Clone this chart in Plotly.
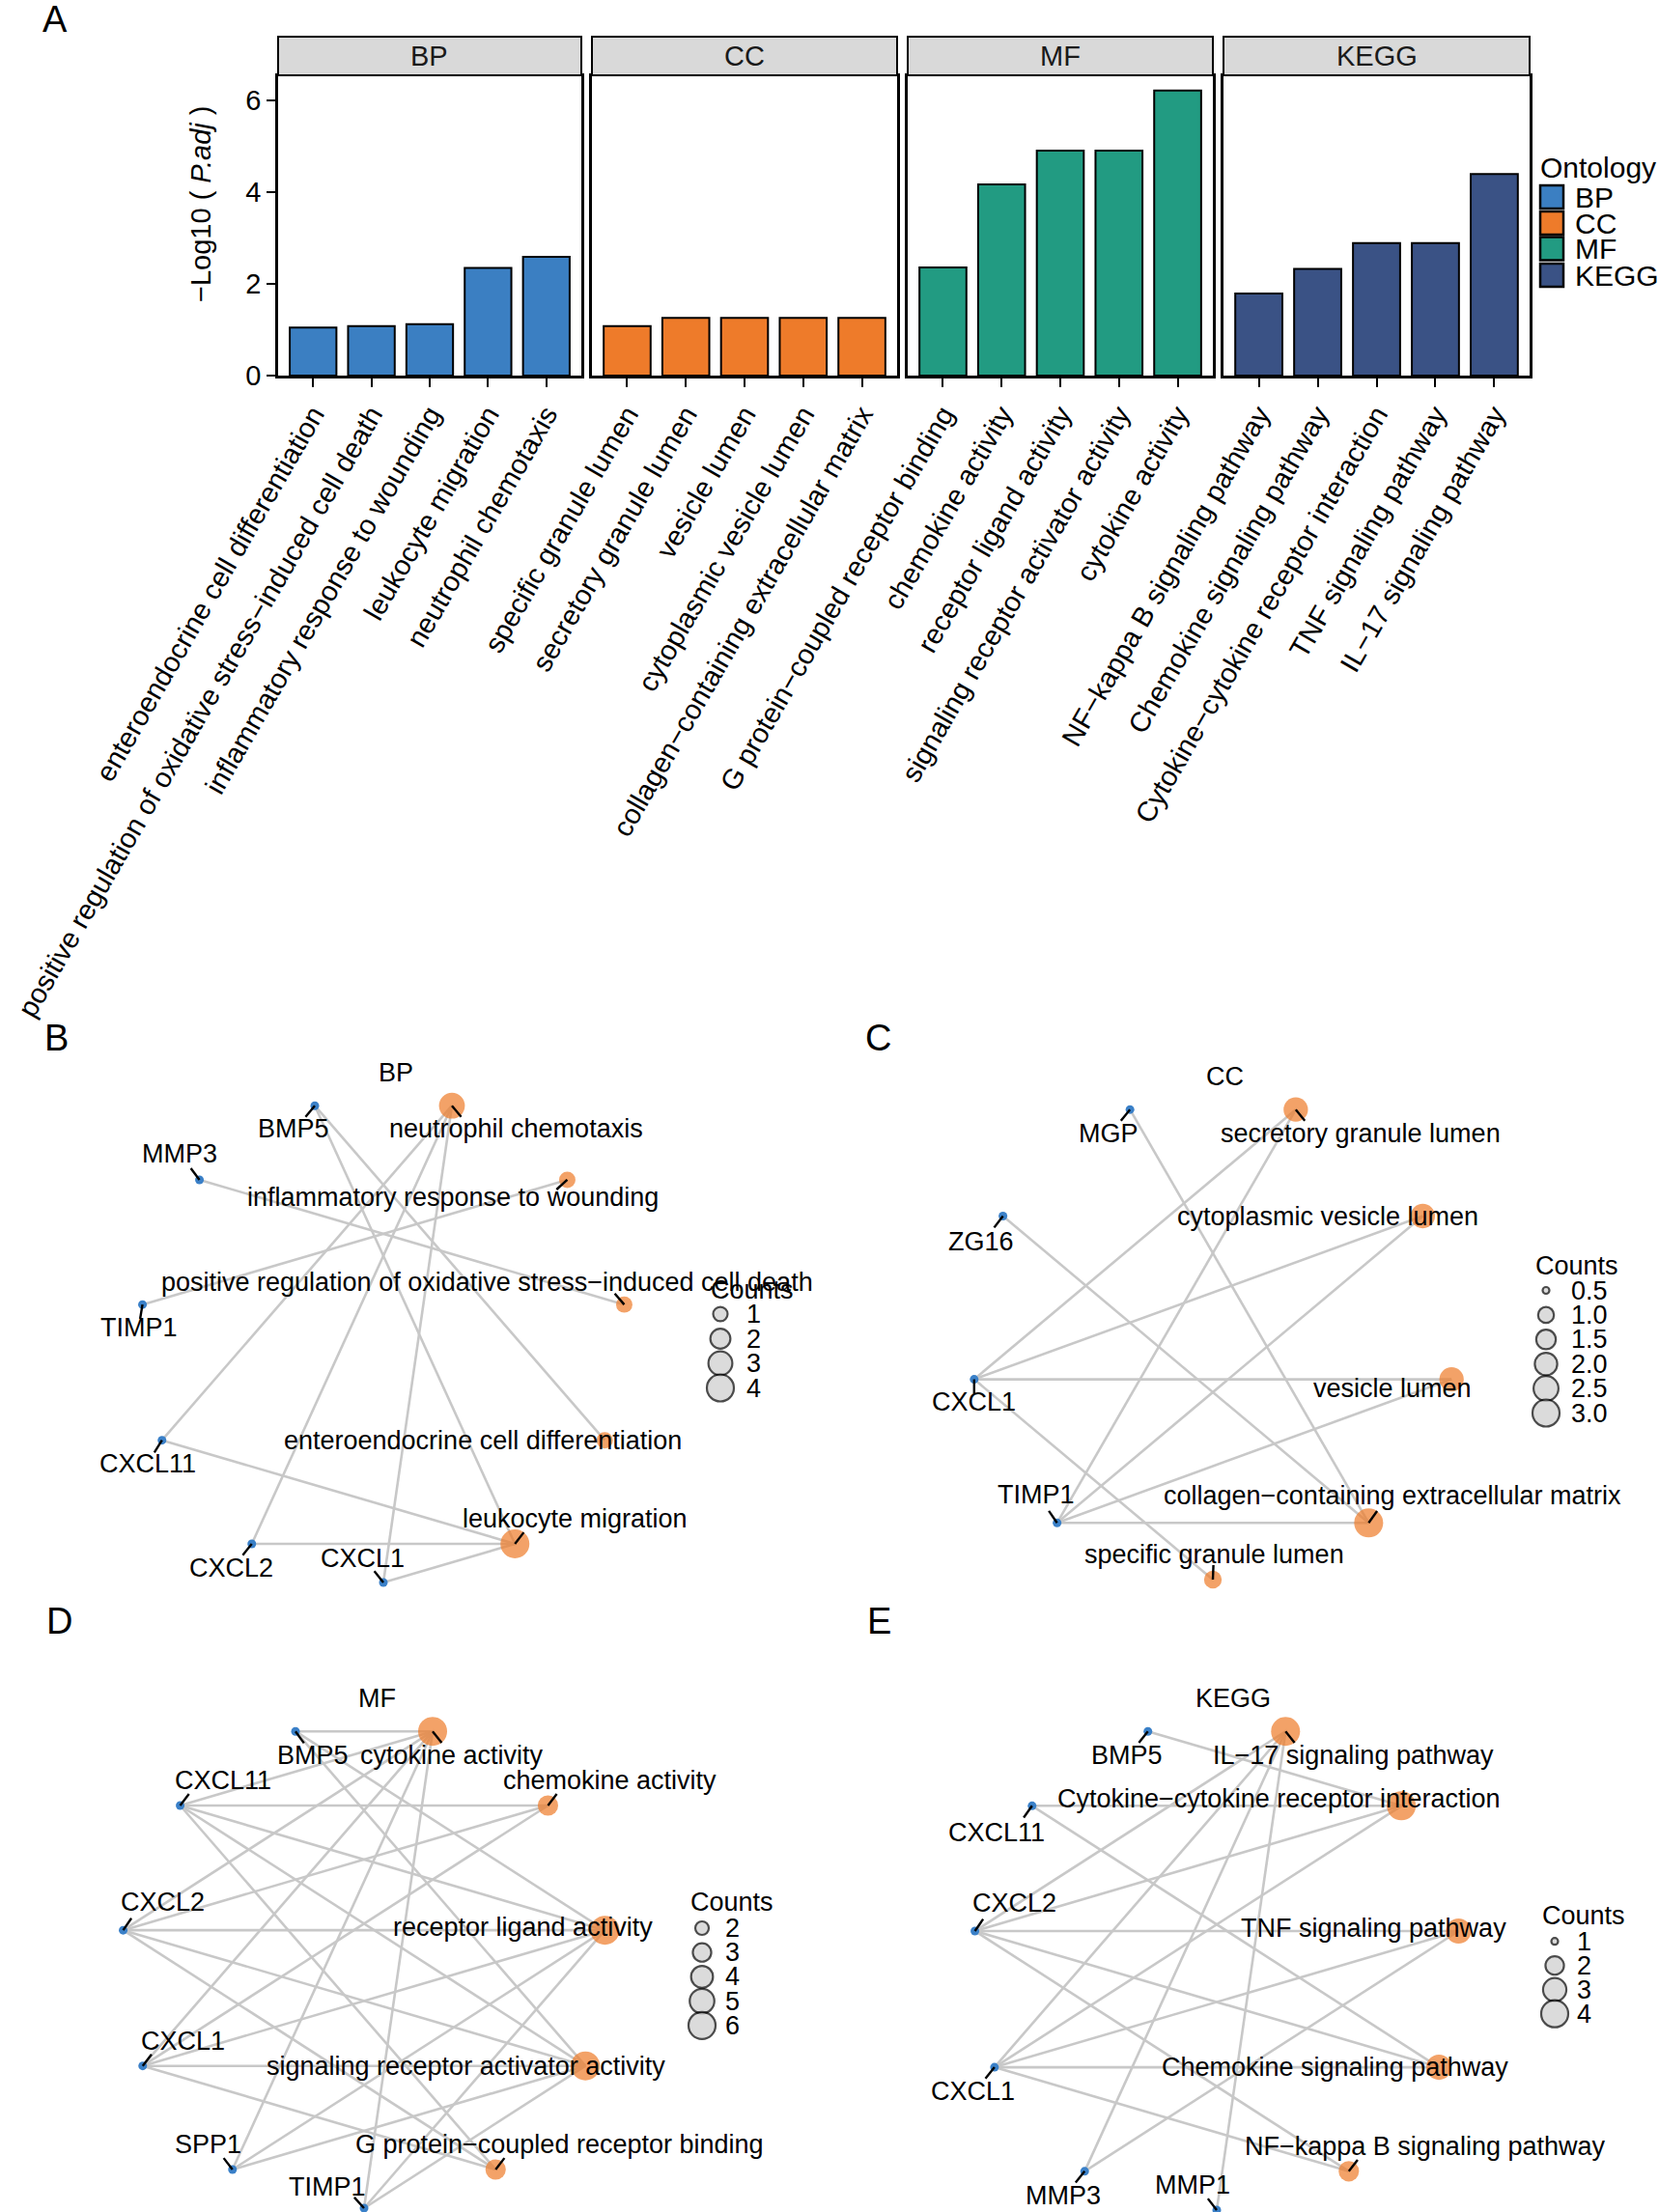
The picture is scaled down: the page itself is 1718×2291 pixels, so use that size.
import math
import plotly.graph_objects as go

# ---------------- data: panel A (enrichment bars) ----------------
ontologies = ["BP", "CC", "MF", "KEGG"]

bp_terms = ["enteroendocrine cell differentiation",
            "positive regulation of oxidative stress\u2212induced cell death",
            "inflammatory response to wounding",
            "leukocyte migration",
            "neutrophil chemotaxis"]
bp_values = [1.05, 1.08, 1.12, 2.35, 2.59]

cc_terms = ["specific granule lumen",
            "secretory granule lumen",
            "vesicle lumen",
            "cytoplasmic vesicle lumen",
            "collagen\u2212containing extracellular matrix"]
cc_values = [1.08, 1.26, 1.26, 1.26, 1.26]

mf_terms = ["G protein\u2212coupled receptor binding",
            "chemokine activity",
            "receptor ligand activity",
            "signaling receptor activator activity",
            "cytokine activity"]
mf_values = [2.36, 4.17, 4.91, 4.91, 6.22]

kegg_terms = ["NF\u2212kappa B signaling pathway",
              "Chemokine signaling pathway",
              "Cytokine\u2212cytokine receptor interaction",
              "TNF signaling pathway",
              "IL\u221217 signaling pathway"]
kegg_values = [1.79, 2.33, 2.89, 2.89, 4.40]

y_ticks = [0, 2, 4, 6]

# ---------------- data: panels B-E (gene-concept networks) ----------------
bp_net_terms = ["neutrophil chemotaxis",
                "inflammatory response to wounding",
                "positive regulation of oxidative stress\u2212induced cell death",
                "enteroendocrine cell differentiation",
                "leukocyte migration"]
bp_net_genes = ["CXCL1", "CXCL2", "CXCL11", "TIMP1", "MMP3", "BMP5"]
bp_net_edges = [["CXCL11", "CXCL2", "CXCL1"],
                ["TIMP1"],
                ["MMP3"],
                ["BMP5"],
                ["CXCL11", "CXCL2", "CXCL1", "BMP5"]]
bp_count_breaks = [1, 2, 3, 4]

cc_net_terms = ["secretory granule lumen",
                "cytoplasmic vesicle lumen",
                "vesicle lumen",
                "collagen\u2212containing extracellular matrix",
                "specific granule lumen"]
cc_net_genes = ["TIMP1", "CXCL1", "ZG16", "MGP"]
cc_net_edges = [["CXCL1", "TIMP1"],
                ["CXCL1", "TIMP1"],
                ["CXCL1", "TIMP1"],
                ["MGP", "ZG16", "TIMP1"],
                ["CXCL1"]]
cc_count_breaks = [0.5, 1.0, 1.5, 2.0, 2.5, 3.0]

mf_net_terms = ["cytokine activity",
                "chemokine activity",
                "receptor ligand activity",
                "signaling receptor activator activity",
                "G protein\u2212coupled receptor binding"]
mf_net_genes = ["TIMP1", "SPP1", "CXCL1", "CXCL2", "CXCL11", "BMP5"]
mf_net_edges = [["BMP5", "CXCL11", "CXCL2", "CXCL1", "SPP1", "TIMP1"],
                ["CXCL11", "CXCL2", "CXCL1"],
                ["BMP5", "CXCL11", "CXCL2", "CXCL1", "SPP1", "TIMP1"],
                ["BMP5", "CXCL11", "CXCL2", "CXCL1", "SPP1", "TIMP1"],
                ["CXCL11", "CXCL2", "CXCL1"]]
mf_count_breaks = [2, 3, 4, 5, 6]

kegg_net_terms = ["IL\u221217 signaling pathway",
                  "Cytokine\u2212cytokine receptor interaction",
                  "TNF signaling pathway",
                  "Chemokine signaling pathway",
                  "NF\u2212kappa B signaling pathway"]
kegg_net_genes = ["MMP1", "MMP3", "CXCL1", "CXCL2", "CXCL11", "BMP5"]
kegg_net_edges = [["CXCL2", "CXCL1", "MMP3", "MMP1"],
                  ["BMP5", "CXCL11", "CXCL2", "CXCL1"],
                  ["CXCL2", "CXCL1", "MMP3"],
                  ["CXCL11", "CXCL2", "CXCL1"],
                  ["CXCL2", "CXCL1"]]
kegg_count_breaks = [1, 2, 3, 4]

# ---------------- styling / layout ----------------
W, H = 1718, 2291
FONT = "Liberation Sans, Arial, Helvetica, sans-serif"
ONT_COLORS = {"BP": "#3B7FC2", "CC": "#EE7B2A", "MF": "#229B82", "KEGG": "#3A5285"}
TERM_COLOR = "#EE7A28"
GENE_COLOR = "#3A80C8"
EDGE_COLOR = "#C8C8C8"

PANEL_X = [(288, 602), (613, 929), (940, 1256), (1267, 1584)]
PANEL_Y = (79, 389)
STRIP_Y = (38, 78)

# label nudges (pixels) for the network labels
bp_label_nudge = {
    "neutrophil chemotaxis": (66, 24), "inflammatory response to wounding": (-118, 18),
    "positive regulation of oxidative stress\u2212induced cell death": (-142, -23),
    "enteroendocrine cell differentiation": (-126, 0), "leukocyte migration": (62, -26),
    "CXCL1": (-22, -25), "CXCL2": (-21, 25), "CXCL11": (-15, 24), "TIMP1": (-4, 24),
    "MMP3": (-21, -27), "BMP5": (-22, 24)}
cc_label_nudge = {
    "secretory granule lumen": (67, 25), "cytoplasmic vesicle lumen": (-98, 0),
    "vesicle lumen": (-61, 9), "collagen\u2212containing extracellular matrix": (25, -28),
    "specific granule lumen": (1, -26), "TIMP1": (-22, -29), "CXCL1": (0, 23),
    "ZG16": (-23, 26), "MGP": (-22, 25)}
mf_label_nudge = {
    "cytokine activity": (20, 25), "chemokine activity": (64, -26),
    "receptor ligand activity": (-85, -3), "signaling receptor activator activity": (-124, 0),
    "G protein\u2212coupled receptor binding": (66, -26), "TIMP1": (-38, -22),
    "SPP1": (-25, -26), "CXCL1": (42, -26), "CXCL2": (41, -29), "CXCL11": (44, -26),
    "BMP5": (18, 25)}
kegg_label_nudge = {
    "IL\u221217 signaling pathway": (70, 25), "Cytokine\u2212cytokine receptor interaction": (-127, -7),
    "TNF signaling pathway": (-88, -3), "Chemokine signaling pathway": (-108, 0),
    "NF\u2212kappa B signaling pathway": (79, -26), "MMP1": (-25, -26), "MMP3": (-22, 25),
    "CXCL1": (-22, 25), "CXCL2": (41, -29), "CXCL11": (-37, 28), "BMP5": (-22, 25)}

networks = [
    dict(title="BP", letter="B", terms=bp_net_terms, genes=bp_net_genes, edges=bp_net_edges,
         breaks=bp_count_breaks, nudge=bp_label_nudge, center=(397, 1387), radius=252,
         title_xy=(410, 1111), letter_xy=(58, 1075),
         legend_title_xy=(734, 1336), legend_circle_x=746, legend_text_x=771,
         legend_y0=1361, legend_dy=25.5),
    dict(title="CC", letter="C", terms=cc_net_terms, genes=cc_net_genes, edges=cc_net_edges,
         breaks=cc_count_breaks, nudge=cc_label_nudge, center=(1256, 1385), radius=251,
         title_xy=(1268, 1115), letter_xy=(909, 1075),
         legend_title_xy=(1588, 1311), legend_circle_x=1601, legend_text_x=1625,
         legend_y0=1336.5, legend_dy=25.4),
    dict(title="MF", letter="D", terms=mf_net_terms, genes=mf_net_genes, edges=mf_net_edges,
         breaks=mf_count_breaks, nudge=mf_label_nudge, center=(377, 2035), radius=252,
         title_xy=(390, 1759), letter_xy=(61, 1679),
         legend_title_xy=(713, 1970), legend_circle_x=727, legend_text_x=749,
         legend_y0=1997, legend_dy=25.2),
    dict(title="KEGG", letter="E", terms=kegg_net_terms, genes=kegg_net_genes, edges=kegg_net_edges,
         breaks=kegg_count_breaks, nudge=kegg_label_nudge, center=(1260, 2036), radius=253,
         title_xy=(1277, 1759), letter_xy=(910, 1679),
         legend_title_xy=(1595, 1984), legend_circle_x=1610, legend_text_x=1631,
         legend_y0=2010.7, legend_dy=25.0),
]

fig = go.Figure()
annotations = []
shapes = []
layout = {}

# ---------------- panel A ----------------
bar_terms = [bp_terms, cc_terms, mf_terms, kegg_terms]
bar_vals = [bp_values, cc_values, mf_values, kegg_values]
ymax = 1.05 * max(max(v) for v in bar_vals)

for k, ont in enumerate(ontologies):
    xa = "x" if k == 0 else f"x{k + 1}"
    ya = "y" if k == 0 else f"y{k + 1}"
    fig.add_trace(go.Bar(x=bar_terms[k], y=bar_vals[k], xaxis=xa, yaxis=ya, width=0.8,
                         marker=dict(color=ONT_COLORS[ont], line=dict(color="black", width=2)),
                         showlegend=False, hoverinfo="skip"))
    x0, x1 = PANEL_X[k]
    layout["xaxis" if k == 0 else f"xaxis{k + 1}"] = dict(
        domain=[x0 / W, x1 / W], anchor=ya, type="category",
        categoryorder="array", categoryarray=bar_terms[k], range=[-0.6, 4.6],
        tickangle=-60, ticks="outside", ticklen=9, tickwidth=2, tickcolor="black",
        tickfont=dict(family=FONT, size=29, color="black"),
        showline=True, linecolor="black", linewidth=2.5, mirror=True,
        showgrid=False, zeroline=False, fixedrange=True)
    layout["yaxis" if k == 0 else f"yaxis{k + 1}"] = dict(
        domain=[1 - PANEL_Y[1] / H, 1 - PANEL_Y[0] / H], anchor=xa, range=[0, ymax],
        tickvals=y_ticks, ticks="outside" if k == 0 else "", ticklen=9, tickwidth=2,
        tickcolor="black", showticklabels=(k == 0),
        tickfont=dict(family=FONT, size=29, color="black"),
        showline=True, linecolor="black", linewidth=2.5, mirror=True,
        showgrid=False, zeroline=False, fixedrange=True)
    # facet strip
    shapes.append(dict(type="rect", xref="paper", yref="paper",
                       x0=x0 / W, x1=x1 / W, y0=1 - STRIP_Y[1] / H, y1=1 - STRIP_Y[0] / H,
                       fillcolor="#D9D9D9", line=dict(color="black", width=2), layer="above"))
    annotations.append(dict(xref="paper", yref="paper", x=(x0 + x1) / 2 / W,
                            y=1 - (STRIP_Y[0] + STRIP_Y[1]) / 2 / H, text=ont, showarrow=False,
                            xanchor="center", yanchor="middle",
                            font=dict(family=FONT, size=29, color="#1A1A1A")))

annotations.append(dict(xref="paper", yref="paper", x=208 / W, y=1 - 212 / H,
                        text="\u2212Log10 ( <i>P.adj</i> )", textangle=-90, showarrow=False,
                        xanchor="center", yanchor="middle",
                        font=dict(family=FONT, size=29, color="black")))
annotations.append(dict(xref="paper", yref="paper", x=57 / W, y=1 - 20 / H, text="A",
                        showarrow=False, xanchor="center", yanchor="middle",
                        font=dict(family=FONT, size=38, color="black")))

# pixel overlay axes for networks and legends
layout["xaxis5"] = dict(domain=[0, 1], range=[0, W], visible=False, anchor="y5", fixedrange=True)
layout["yaxis5"] = dict(domain=[0, 1], range=[H, 0], visible=False, anchor="x5", fixedrange=True)

# Ontology legend
leg_y = [204, 231, 257.5, 285]
fig.add_trace(go.Scatter(x=[1607] * 4, y=leg_y, xaxis="x5", yaxis="y5", mode="markers",
                         marker=dict(symbol="square", size=24,
                                     color=[ONT_COLORS[o] for o in ontologies],
                                     line=dict(color="black", width=2.5)),
                         showlegend=False, hoverinfo="skip"))
annotations.append(dict(xref="x5", yref="y5", x=1593, y=173, text="Ontology", showarrow=False,
                        xanchor="left", yanchor="middle", font=dict(family=FONT, size=30, color="black")))
for o, yy in zip(ontologies, leg_y):
    annotations.append(dict(xref="x5", yref="y5", x=1629, y=yy, text=o, showarrow=False,
                            xanchor="left", yanchor="middle",
                            font=dict(family=FONT, size=30, color="black")))


# ---------------- network panels ----------------
def circle_layout(nodes, cx, cy, r):
    n = len(nodes)
    pos = {}
    for i, name in enumerate(nodes):
        a = math.pi / 2 - 2 * math.pi * (i + 0.5) / n
        pos[name] = (cx + r * math.cos(a), cy - r * math.sin(a))
    return pos


def size_scale(v, vmin, vmax, dmin=9.0, dmax=30.0):
    return dmin + (dmax - dmin) * math.sqrt(max(v - vmin, 0) / (vmax - vmin))


NET_FS = 27
for net in networks:
    terms, genes = net["terms"], net["genes"]
    counts = [len(g) for g in net["edges"]]
    vmin, vmax = min(counts) / 2.0, max(counts)
    cx, cy = net["center"]
    pos = circle_layout(terms + genes, cx, cy, net["radius"])

    ex, ey = [], []
    for t, glist in zip(terms, net["edges"]):
        for g in glist:
            ex += [pos[t][0], pos[g][0], None]
            ey += [pos[t][1], pos[g][1], None]
    fig.add_trace(go.Scatter(x=ex, y=ey, xaxis="x5", yaxis="y5", mode="lines",
                             line=dict(color=EDGE_COLOR, width=2.6),
                             showlegend=False, hoverinfo="skip"))

    fig.add_trace(go.Scatter(x=[pos[g][0] for g in genes], y=[pos[g][1] for g in genes],
                             xaxis="x5", yaxis="y5", mode="markers",
                             marker=dict(size=size_scale(vmin, vmin, vmax), color=GENE_COLOR,
                                         line=dict(width=0)),
                             showlegend=False, hoverinfo="skip"))
    fig.add_trace(go.Scatter(x=[pos[t][0] for t in terms], y=[pos[t][1] for t in terms],
                             xaxis="x5", yaxis="y5", mode="markers",
                             marker=dict(size=[size_scale(c, vmin, vmax) for c in counts],
                                         color=TERM_COLOR, line=dict(width=0)),
                             showlegend=False, hoverinfo="skip"))

    # labels with short leader segments
    sx, sy = [], []
    for name in terms + genes:
        px, py = pos[name]
        dx, dy = net["nudge"][name]
        lx, ly = px + dx, py + dy
        annotations.append(dict(xref="x5", yref="y5", x=lx, y=ly, text=name, showarrow=False,
                                xanchor="center", yanchor="middle",
                                font=dict(family=FONT, size=NET_FS, color="black")))
        hw = len(name) * 0.25 * NET_FS
        hh = 0.45 * NET_FS
        inside = (abs(px - lx) <= hw) and (abs(py - ly) <= hh)
        if not inside:
            ux = max(-20.0, min(20.0, dx))
            uy = dy
            d = math.hypot(ux, uy)
            L = 15.0
            sx += [px, px + ux / d * L, None]
            sy += [py, py + uy / d * L, None]
    fig.add_trace(go.Scatter(x=sx, y=sy, xaxis="x5", yaxis="y5", mode="lines",
                             line=dict(color="black", width=2.4),
                             showlegend=False, hoverinfo="skip"))

    # title and panel letter
    tx, ty = net["title_xy"]
    annotations.append(dict(xref="x5", yref="y5", x=tx, y=ty, text=net["title"], showarrow=False,
                            xanchor="center", yanchor="middle",
                            font=dict(family=FONT, size=NET_FS, color="black")))
    lx, ly = net["letter_xy"]
    annotations.append(dict(xref="x5", yref="y5", x=lx, y=ly, text=net["letter"], showarrow=False,
                            xanchor="center", yanchor="middle",
                            font=dict(family=FONT, size=38, color="black")))

    # Counts legend
    breaks = net["breaks"]
    is_int = all(float(b).is_integer() for b in breaks)
    ly_list = [net["legend_y0"] + i * net["legend_dy"] for i in range(len(breaks))]
    fig.add_trace(go.Scatter(x=[net["legend_circle_x"]] * len(breaks), y=ly_list,
                             xaxis="x5", yaxis="y5", mode="markers",
                             marker=dict(size=[size_scale(b, vmin, vmax) - 2 for b in breaks],
                                         color="#CDCDCD", line=dict(color="black", width=2.2)),
                             showlegend=False, hoverinfo="skip"))
    gx, gy = net["legend_title_xy"]
    annotations.append(dict(xref="x5", yref="y5", x=gx, y=gy, text="Counts", showarrow=False,
                            xanchor="left", yanchor="middle",
                            font=dict(family=FONT, size=NET_FS, color="black")))
    for b, yy in zip(breaks, ly_list):
        lab = str(int(b)) if is_int else f"{b:.1f}"
        annotations.append(dict(xref="x5", yref="y5", x=net["legend_text_x"], y=yy, text=lab,
                                showarrow=False, xanchor="left", yanchor="middle",
                                font=dict(family=FONT, size=NET_FS, color="black")))

fig.update_layout(
    width=W, height=H, margin=dict(l=0, r=0, t=0, b=0, autoexpand=False),
    paper_bgcolor="white", plot_bgcolor="rgba(0,0,0,0)",
    font=dict(family=FONT, color="black"),
    showlegend=False, annotations=annotations, shapes=shapes, **layout)

fig.write_html("out.html", config={"displayModeBar": False},
               post_script="document.body.style.margin='0px';")
